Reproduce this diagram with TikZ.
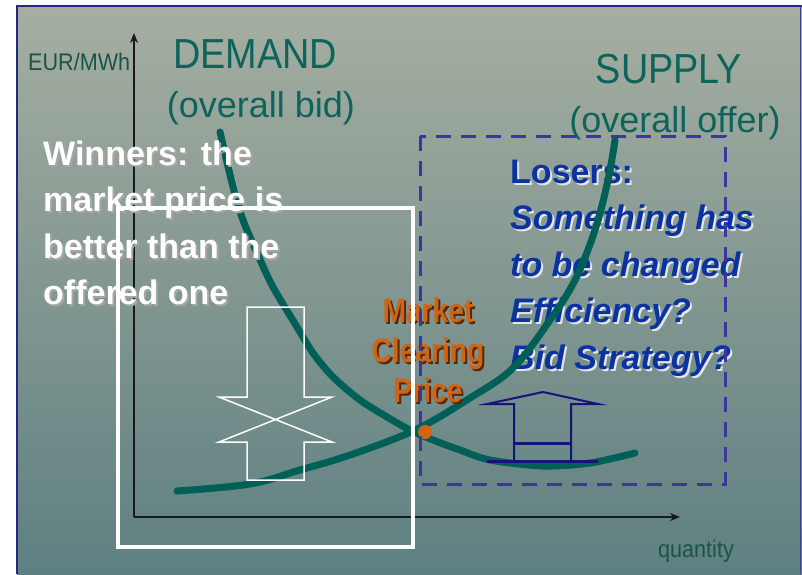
\documentclass[tikz,border=0pt]{standalone}
\usepackage{fontspec}
\setmainfont{Liberation Sans}
\newfontfamily\condsans[FakeStretch=0.9]{Liberation Sans}
\newfontfamily\narrowsans[FakeStretch=0.83]{Liberation Sans}
\usetikzlibrary{arrows.meta}

\definecolor{bgtop}{RGB}{166,174,161}
\definecolor{bgbot}{RGB}{94,128,129}
\definecolor{framenavy}{RGB}{35,40,130}
\definecolor{curveteal}{RGB}{0,96,88}
\definecolor{headteal}{RGB}{12,100,90}
\definecolor{axislabel}{RGB}{25,85,70}
\definecolor{mcporange}{RGB}{208,100,20}
\definecolor{loserblue}{RGB}{10,50,160}
\definecolor{dashblue}{RGB}{60,55,160}
\definecolor{arrownavy}{RGB}{20,20,120}

\tikzset{
  axis/.style={line width=2pt, draw=black!90, -{Stealth[length=10pt,width=8pt]}},
  curve/.style={line width=7pt, draw=curveteal, line cap=round},
  axislbl/.style={inner sep=0pt, text=axislabel, font=\condsans\fontsize{24}{28}\selectfont},
  headlbl/.style={inner sep=0pt, text=headteal, font=\condsans\fontsize{42}{46}\selectfont},
  sublbl/.style={inner sep=0pt, text=headteal, font=\fontsize{36}{40}\selectfont},
  bigtext/.style={inner sep=0pt, align=left, font=\bfseries\fontsize{34}{46.5}\selectfont},
  mcptext/.style={inner sep=0pt, align=center, font=\narrowsans\bfseries\fontsize{34}{40}\selectfont},
  hollowarrow/.style={draw=white, line width=1.5pt, line join=miter},
  navyarrow/.style={draw=arrownavy, line width=2pt},
}

\begin{document}
\begin{tikzpicture}[x=1pt,y=-1pt]
\useasboundingbox (0,0) rectangle (802,574);

% background and frame
\shade[top color=bgtop, bottom color=bgbot] (17,6) rectangle (802,574);
\draw[framenavy, line width=2.5pt] (17,574) -- (17,6) -- (802,6);
\draw[framenavy!70!gray, line width=1.5pt] (800.5,6) -- (800.5,574);

% axes
\coordinate (origin) at (134,517);
\coordinate (ytop) at (134,33);
\coordinate (xend) at (680,517);
\draw[axis] (origin) -- (ytop);
\draw[axis] (origin) -- (xend);

\node[axislbl, anchor=base west] (ylabel) at (28,70) {EUR/MWh};
\node[axislbl, anchor=base] (xlabel) at (696,557) {quantity};

% curve titles
\node[headlbl, anchor=base] (demand) at (255,68) {DEMAND};
\node[sublbl, anchor=base] (demandsub) at (261,117) {(overall bid)};
\node[headlbl, anchor=base] (supply) at (669,83) {SUPPLY};
\node[sublbl, anchor=base] (supplysub) at (675,132) {(overall offer)};

% losers text with light shadow (anchored on the last line)
\node[bigtext, anchor=base west, text=white!80!gray] (losersshadow) at (512,371)
  {Losers:\\\textit{Something has}\\\textit{to be changed}\\\textit{Efficiency?}\\\textit{Bid Strategy?}};
\node[bigtext, anchor=base west, text=loserblue] (losers) at (510,369)
  {Losers:\\\textit{Something has}\\\textit{to be changed}\\\textit{Efficiency?}\\\textit{Bid Strategy?}};

% demand and supply curves
\draw[curve] plot[smooth, tension=0.5] coordinates
  {(220,132) (233,187) (243,220) (257,253) (273,287) (297,327) (313,353) (333,377)
   (360,400) (387,417) (410,430) (433,440) (460,450) (490,460) (543,466) (590,463) (635,453)};
\draw[curve] plot[smooth, tension=0.6] coordinates
  {(177,491) (250,484) (300,470) (350,455) (415,430) (470,398) (513,368) (550,320) (575,280) (595,230) (608,180) (615,140)};

% winners text with grey shadow (anchored on the last line)
\node[bigtext, anchor=base west, text=gray!70] (winnersshadow) at (45,306.5)
  {Winners: the\\market price is\\better than the\\offered one};
\node[bigtext, anchor=base west, text=white] (winners) at (43,304.5)
  {Winners: the\\market price is\\better than the\\offered one};

% market clearing price label
\node[mcptext, anchor=base, text=black!60!mcporange] (mcpshadow) at (430,404)
  {Market\\Clearing\\Price};
\node[mcptext, anchor=base, text=mcporange] (mcp) at (428,402)
  {Market\\Clearing\\Price};

% hollow double arrow (prices pressed together)
\draw[hollowarrow] (247,397) -- (247,307) -- (304,307) -- (304,397) -- (332,397)
  -- (219,442) -- (247,442) -- (247,480) -- (304,480) -- (304,442) -- (332,442)
  -- (219,397) -- cycle;

% navy up arrow
\draw[navyarrow] (514,461) -- (514,404) -- (487,404) -- (543,392) -- (598,404) -- (571,404) -- (571,461);
\draw[navyarrow, line width=3pt] (514,443) -- (571,443);
\draw[navyarrow, line width=3pt] (487,461) -- (598,461);

% equilibrium point
\fill[mcporange] (425,432) circle (7pt);

% group boxes
\draw[dashblue, line width=3pt, dash pattern=on 15pt off 10pt] (420,136) rectangle (725,484);
\draw[white, line width=4pt] (118,208) rectangle (413,547);
\end{tikzpicture}
\end{document}
